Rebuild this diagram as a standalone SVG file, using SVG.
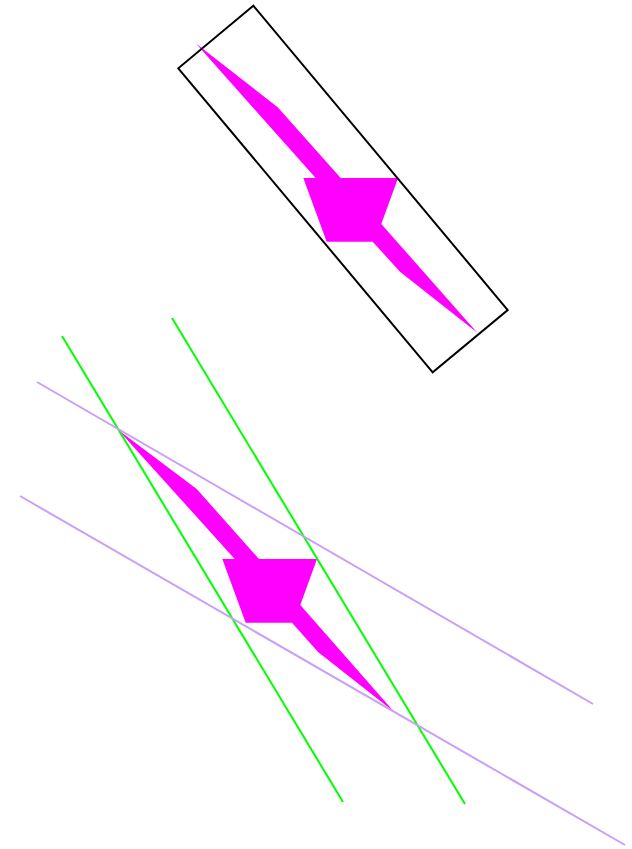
<svg xmlns="http://www.w3.org/2000/svg" width="632" height="849" viewBox="0 0 632 849">
<style>
.shape{fill:#ff00ff;stroke:none}
.box{fill:none;stroke:#000;stroke-width:2}
.g{stroke:#00ff00;stroke-width:2;fill:none}
.p{stroke:#c8a0f8;stroke-width:2;fill:none}
</style>
<rect width="632" height="849" fill="#fff"/>
<g id="top">
<polygon class="shape" points="196,43.5 277.7,107.3 340.7,178 398,178 381.3,224 477.3,332.7 400,271.7 372.7,241.7 326.7,241.7 303.3,178 315.7,178"/>
<polygon class="box" points="253.3,5.7 178.3,68.3 432.7,372.3 507.7,310"/>
</g>
<g id="bottom">
<polygon class="shape" points="118.3,430 196.7,489 259,559 317,559 300.3,605 394,711.7 318.3,652.3 292,622.7 245.7,622.7 222.3,559 234.7,559"/>
</g>
<g id="lines">
<line class="g" x1="62" y1="336" x2="343" y2="802"/>
<line class="g" x1="172" y1="318" x2="465" y2="804"/>
<line class="p" x1="37" y1="382" x2="593" y2="704"/>
<line class="p" x1="20" y1="496" x2="625" y2="845"/>
</g>
</svg>
